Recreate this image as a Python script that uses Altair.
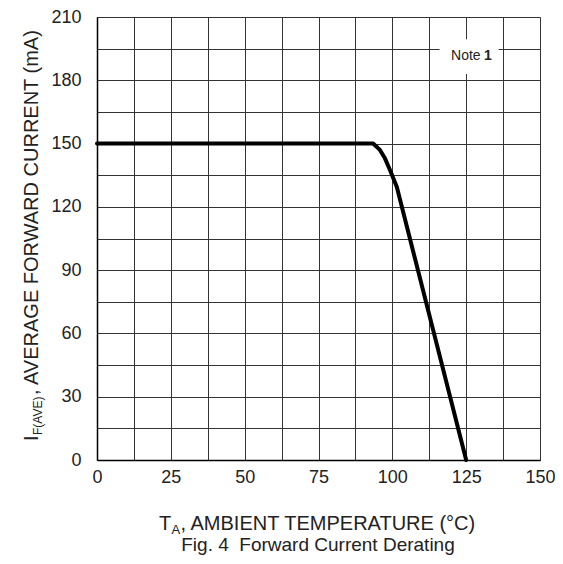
import altair as alt
import pandas as pd

# Derating curve
temp = [0, 93.5, 95.8, 97.5, 99.2, 101.5, 125]
current = [150, 150, 147, 143, 137.5, 129.5, 0]

x_ticks = [0, 12.5, 25, 37.5, 50, 62.5, 75, 87.5, 100, 112.5, 125, 137.5, 150]
y_ticks = [0, 15, 30, 45, 60, 75, 90, 105, 120, 135, 150, 165, 180, 195, 210]

# "Note 1" annotation box (data coordinates)
note_box_x = [116, 136]
note_box_y = [183, 199.5]
note_text_x = [129.9, 131.0]
note_text_y = [191.5, 191.5]

FONT = "Liberation Sans"
W, H = 443, 443

df = pd.DataFrame({"temp": temp, "current": current})

xscale = alt.Scale(domain=[0, 150], nice=False, zero=False)
yscale = alt.Scale(domain=[0, 210], nice=False, zero=False)


def x_axis():
    return alt.Axis(values=x_ticks, labelExpr="datum.value % 25 == 0 ? datum.label : ''",
                    grid=True, gridColor="#333", gridWidth=1, gridOpacity=1,
                    ticks=False, domainColor="#000", domainWidth=1.5,
                    labelFont=FONT, labelFontSize=18, labelColor="#222",
                    labelPadding=8, title=None, labelFlush=False, labelOverlap=False)


def y_axis():
    return alt.Axis(values=y_ticks, labelExpr="datum.value % 30 == 0 ? datum.label : ''",
                    grid=True, gridColor="#333", gridWidth=1, gridOpacity=1,
                    ticks=False, domainColor="#000", domainWidth=1.5,
                    labelFont=FONT, labelFontSize=18, labelColor="#222",
                    labelPadding=16, title=None, labelFlush=False, labelOverlap=False)


line = alt.Chart(df).mark_line(color="#000", strokeWidth=4, strokeJoin="round", strokeCap="round").encode(
    x=alt.X("temp:Q", scale=xscale, axis=x_axis()),
    y=alt.Y("current:Q", scale=yscale, axis=y_axis()),
)

box_df = pd.DataFrame({"temp": [note_box_x[0]], "x2": [note_box_x[1]],
                       "current": [note_box_y[0]], "y2": [note_box_y[1]]})
note_box = alt.Chart(box_df).mark_rect(color="white").encode(
    x=alt.X("temp:Q", scale=xscale, axis=x_axis()), x2="x2:Q",
    y=alt.Y("current:Q", scale=yscale, axis=y_axis()), y2="y2:Q",
)

note_df1 = pd.DataFrame({"temp": [note_text_x[0]], "current": [note_text_y[0]], "t": ["Note"]})
note_df2 = pd.DataFrame({"temp": [note_text_x[1]], "current": [note_text_y[1]], "t": ["1"]})
note1 = alt.Chart(note_df1).mark_text(font=FONT, fontSize=14, color="#222", align="right", baseline="middle").encode(
    x=alt.X("temp:Q", scale=xscale, axis=x_axis()), y=alt.Y("current:Q", scale=yscale, axis=y_axis()), text="t:N")
note2 = alt.Chart(note_df2).mark_text(font=FONT, fontSize=14, fontWeight="bold", color="#222", align="left", baseline="middle").encode(
    x=alt.X("temp:Q", scale=xscale, axis=x_axis()), y=alt.Y("current:Q", scale=yscale, axis=y_axis()), text="t:N")


def label(txt, x, y, size, angle=0, align="left", weight="normal"):
    d = pd.DataFrame({"t": [txt]})
    return alt.Chart(d).mark_text(font=FONT, fontSize=size, color="#222", align=align,
                                  baseline="alphabetic", angle=angle, fontWeight=weight).encode(
        text="t:N", x=alt.value(x), y=alt.value(y))

# x title: T_A, AMBIENT TEMPERATURE (°C)
xt_main = label("T", 62, 513, 20)
xt_sub = label("A", 74.5, 517, 13)
xt_rest = label(", AMBIENT TEMPERATURE (\u00b0C)", 83.5, 513, 20)
caption = label("Fig. 4\u00a0 Forward Current Derating", 221, 534, 19, align="center")

# y title: I_F(AVE), AVERAGE FORWARD CURRENT (mA)  (rotated)
yt_main = label("I", -59, 424, 20, angle=270)
yt_sub = label("F(AVE)", -55, 418, 12, angle=270)
yt_rest = label(", AVERAGE FORWARD CURRENT (mA)", -59, 378, 20, angle=270)

chart = alt.layer(
    note_box, note1, note2, line,
    xt_main, xt_sub, xt_rest, caption, yt_main, yt_sub, yt_rest,
).properties(
    width=W, height=H,
    autosize=alt.AutoSizeParams(type="none"),
    padding={"left": 89, "top": 9, "right": 15, "bottom": 96},
).configure_view(stroke="#000", strokeWidth=1.5).configure(background="white")

chart.save("out.html", embed_options={"renderer": "svg", "actions": False})
